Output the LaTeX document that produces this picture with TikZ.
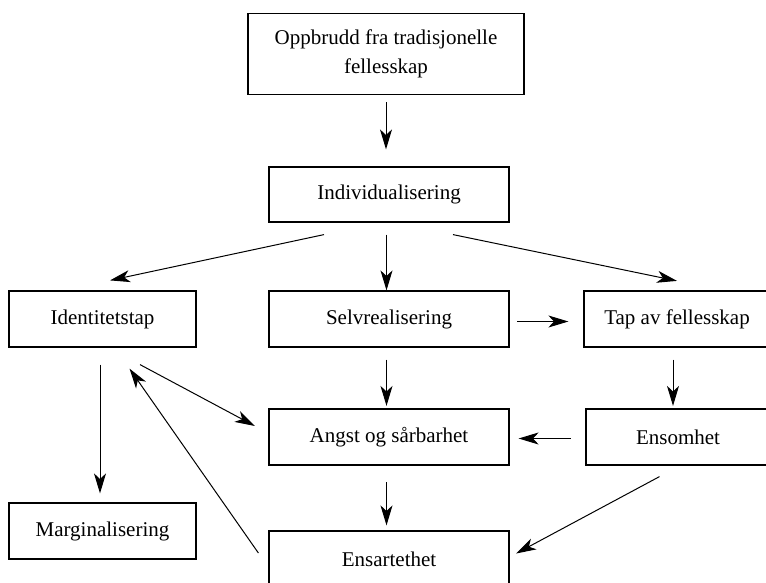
\documentclass[tikz,border=0pt]{standalone}
\usepackage{fontspec}
\setmainfont{Liberation Serif}
\usetikzlibrary{arrows.meta}
\begin{document}
\begin{tikzpicture}[x=0.5pt,y=-0.5pt,
  box/.style={draw,line width=0.6pt,inner sep=2pt,align=center,
    font=\fontsize{10.5}{14.5}\selectfont,minimum height=28pt},
  edge/.style={-{Stealth[length=10pt,width=6pt,inset=2.8pt]},line width=0.5pt}]
\useasboundingbox (0,0) rectangle (766,583);
\node[box,minimum width=138pt,minimum height=40.5pt] (opp) at (386,54) {Oppbrudd fra tradisjonelle\\fellesskap};
\node[box,minimum width=120pt,minimum height=27.5pt] (ind) at (389,194.5) {Individualisering};
\node[box,minimum width=93.5pt] (idt) at (102.5,319) {Identitetstap};
\node[box,minimum width=120pt] (sel) at (389,319) {Selvrealisering};
\node[box,minimum width=93pt] (tap) at (677,319) {Tap av fellesskap};
\node[box,minimum width=120pt] (ang) at (389,437) {Angst og sårbarhet};
\node[box,minimum width=92pt] (ens) at (678,437) {Ensomhet};
\node[box,minimum width=93.5pt] (mar) at (102.5,531) {Marginalisering};
\node[box,minimum width=120pt] (art) at (389,559) {Ensartethet};
\draw[edge] ([shift={(0,7)}]opp.south)--([shift={(-3,-17)}]ind.north);
\draw[edge] ([shift={(-65,12)}]ind.south)--([shift={(7.5,-10)}]idt.north);
\draw[edge] ([shift={(-2.5,12)}]ind.south)--([shift={(-2.5,0)}]sel.north);
\draw[edge] ([shift={(64,12)}]ind.south)--([shift={(0,-9.5)}]tap.north);
\draw[edge] ([shift={(7.5,2.5)}]sel.east)--([shift={(-15,2.5)}]tap.west);
\draw[edge] ([shift={(-2.5,17)}]idt.south)--([shift={(-2.5,-9)}]mar.north);
\draw[edge] ([shift={(37.5,17)}]idt.south)--([shift={(-13.5,-11)}]ang.west);
\draw[edge] ([shift={(-10,-6)}]art.west)--([shift={(27,21)}]idt.south);
\draw[edge] ([shift={(-2.5,12)}]sel.south)--([shift={(-2.5,-2.5)}]ang.north);
\draw[edge] ([shift={(-4,12)}]tap.south)--([shift={(-5,-2.5)}]ens.north);
\draw[edge] ([shift={(-14.5,1.5)}]ens.west)--([shift={(9,1.5)}]ang.east);
\draw[edge] ([shift={(-2.5,16.5)}]ang.south)--([shift={(-2.5,-5)}]art.north);
\draw[edge] ([shift={(-18.5,11)}]ens.south)--([shift={(6.5,-5.5)}]art.east);
\end{tikzpicture}
\end{document}
